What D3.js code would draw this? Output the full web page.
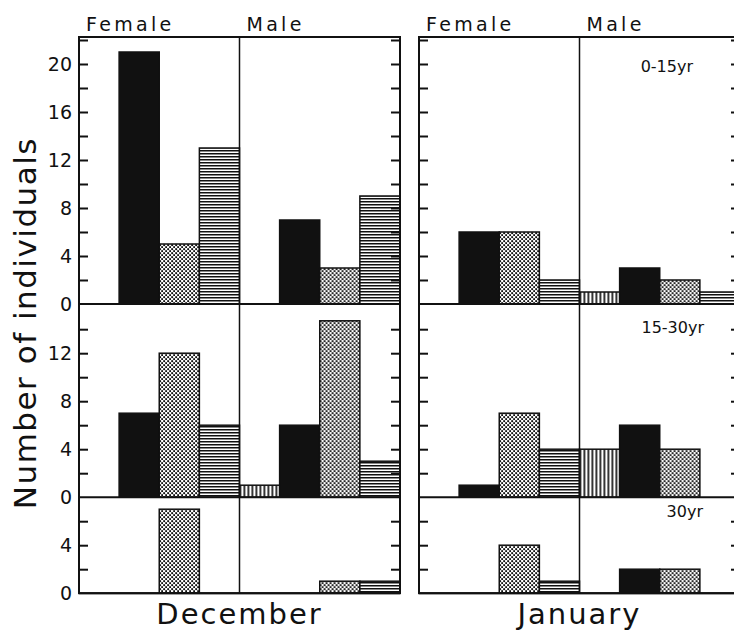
<!DOCTYPE html>
<html>
<head>
<meta charset="utf-8">
<script src="https://cdn.jsdelivr.net/npm/d3@7"></script>
<style>
  body { margin: 0; background: #fff; }
  text { font-family: "DejaVu Sans", sans-serif; fill: #111; }
</style>
</head>
<body>
<svg id="chart" width="734" height="632"></svg>
<script>
// data
var months = ["December", "January"]
var sexes = ["Female", "Male"]
var categories = ["vertical", "black", "stipple", "horizontal"]
var ageGroups = ["0-15yr", "15-30yr", "30yr"]

// values per category [vertical, black, stipple, horizontal]
var decFemale0_15 = [0, 21, 5, 13]
var decMale0_15 = [0, 7, 3, 9]
var janFemale0_15 = [0, 6, 6, 2]
var janMale0_15 = [1, 3, 2, 1]

var decFemale15_30 = [0, 7, 12, 6]
var decMale15_30 = [1, 6, 14.7, 3]
var janFemale15_30 = [0, 1, 7, 4]
var janMale15_30 = [4, 6, 4, 0]

var decFemale30 = [0, 0, 7, 0]
var decMale30 = [0, 0, 1, 1]
var janFemale30 = [0, 0, 4, 1]
var janMale30 = [0, 2, 2, 0]

// y extent of each row, tick labels per row
var rowMax = [22.25, 16.1, 8]
var rowLabels = [[0, 4, 8, 12, 16, 20], [0, 4, 8, 12], [0, 4]]
var rowTicks = [[2, 4, 6, 8, 10, 12, 14, 16, 18, 20, 22], [2, 4, 6, 8, 10, 12, 14], [2, 4, 6]]

var values = {
    "December": [
        {Female: decFemale0_15, Male: decMale0_15},
        {Female: decFemale15_30, Male: decMale15_30},
        {Female: decFemale30, Male: decMale30}
    ],
    "January": [
        {Female: janFemale0_15, Male: janMale0_15},
        {Female: janFemale15_30, Male: janMale15_30},
        {Female: janFemale30, Male: janMale30}
    ]
}

var svg = d3.select("#chart")

//patterns
var defs = svg.append("defs")
var stip = defs.append("pattern").attr("id", "stipple")
    .attr("patternUnits", "userSpaceOnUse").attr("width", 4).attr("height", 4)
stip.append("rect").attr("width", 4).attr("height", 4).attr("fill", "#fff")
stip.append("rect").attr("x", 0.2).attr("y", 0.2).attr("width", 1.9).attr("height", 1.9).attr("fill", "#111")
stip.append("rect").attr("x", 2.2).attr("y", 2.2).attr("width", 1.9).attr("height", 1.9).attr("fill", "#111")

var hor = defs.append("pattern").attr("id", "horizontal")
    .attr("patternUnits", "userSpaceOnUse").attr("width", 4).attr("height", 3)
hor.append("rect").attr("width", 4).attr("height", 3).attr("fill", "#fff")
hor.append("rect").attr("y", 0).attr("width", 4).attr("height", 1.5).attr("fill", "#111")

var ver = defs.append("pattern").attr("id", "vertical")
    .attr("patternUnits", "userSpaceOnUse").attr("width", 4).attr("height", 4)
ver.append("rect").attr("width", 4).attr("height", 4).attr("fill", "#fff")
ver.append("rect").attr("x", 0).attr("width", 1.7).attr("height", 4).attr("fill", "#111")

var fills = {vertical: "url(#vertical)", black: "#111", stipple: "url(#stipple)", horizontal: "url(#horizontal)"}

//layout
var unit = 12
var topY = 37
var rowZero = []
var acc = topY
rowMax.forEach(m => { acc += m * unit; rowZero.push(acc) })
var bottomY = rowZero[rowZero.length - 1]

var yScales = rowMax.map((m, i) => d3.scaleLinear().domain([0, m]).range([rowZero[i], rowZero[i] - m * unit]))

var xMonth = d3.scaleBand().domain(months).range([79, 740]).paddingInner(0.0559)
var xSex = d3.scaleBand().domain(sexes).range([0, xMonth.bandwidth()])
var xCat = d3.scaleBand().domain(categories).range([0, xSex.bandwidth()])

months.forEach((month, mi) => {
    var g = svg.append("g").attr("transform", `translate(${xMonth(month)},0)`)
    var w = xMonth.bandwidth()

    //bars
    values[month].forEach((row, ri) => {
        var y = yScales[ri]
        sexes.forEach(sex => {
            g.append("g")
             .attr("transform", `translate(${xSex(sex)},0)`)
             .selectAll("rect")
             .data(categories.map((c, ci) => ({cat: c, v: row[sex][ci]})).filter(d => d.v > 0))
             .enter()
             .append("rect")
             .attr("x", d => xCat(d.cat))
             .attr("y", d => y(d.v))
             .attr("width", xCat.bandwidth())
             .attr("height", d => y(0) - y(d.v))
             .attr("fill", d => fills[d.cat])
             .attr("stroke", "#111")
             .attr("stroke-width", 1.5)
        })

        //inward ticks both sides
        g.append("g").attr("class", "tick-l")
         .call(d3.axisRight(y).tickValues(rowTicks[ri]).tickSize(9).tickFormat(""))
        g.append("g").attr("class", "tick-r").attr("transform", `translate(${w},0)`)
         .call(d3.axisLeft(y).tickValues(rowTicks[ri]).tickSize(9).tickFormat(""))

        if (mi === 0) {
            g.append("g").attr("class", "labels")
             .call(d3.axisLeft(y).tickValues(rowLabels[ri]).tickSize(0).tickPadding(7))
             .call(a => a.selectAll("text").attr("font-size", 19).attr("font-family", "DejaVu Sans").attr("fill", "#111"))
        }

        //row baseline
        g.append("line").attr("x1", 0).attr("x2", w)
         .attr("y1", y(0)).attr("y2", y(0))
         .attr("stroke", "#111").attr("stroke-width", 2)
    })

    g.selectAll(".domain").remove()
    g.selectAll(".tick line").attr("stroke", "#111").attr("stroke-width", 2)

    //frame
    g.append("rect").attr("x", 0).attr("y", topY).attr("width", w).attr("height", bottomY - topY)
     .attr("fill", "none").attr("stroke", "#111").attr("stroke-width", 2)
    g.append("line").attr("x1", xSex("Male")).attr("x2", xSex("Male"))
     .attr("y1", topY).attr("y2", bottomY).attr("stroke", "#111").attr("stroke-width", 1.5)

    //sex headers
    sexes.forEach(sex => {
        g.append("text").attr("x", xSex(sex) + 7).attr("y", 31)
         .attr("font-size", 19).attr("letter-spacing", 3.3)
         .text(sex)
    })

    //month title
    g.append("text").attr("x", w / 2).attr("y", 624)
     .attr("text-anchor", "middle").attr("font-size", 29).attr("letter-spacing", 2)
     .text(month)
})

//age labels
var ageX = [693, 704, 703]
var ageY = [72, 333, 517]
ageGroups.forEach((a, i) => {
    svg.append("text").attr("x", ageX[i]).attr("y", ageY[i])
       .attr("text-anchor", "end").attr("font-size", 16)
       .text(a)
})

//y axis title
svg.append("text")
   .attr("transform", `translate(36, ${(topY + bottomY) / 2 + 8}) rotate(-90)`)
   .attr("text-anchor", "middle").attr("font-size", 31).attr("letter-spacing", 1.5)
   .text("Number of individuals")
</script>
</body>
</html>
